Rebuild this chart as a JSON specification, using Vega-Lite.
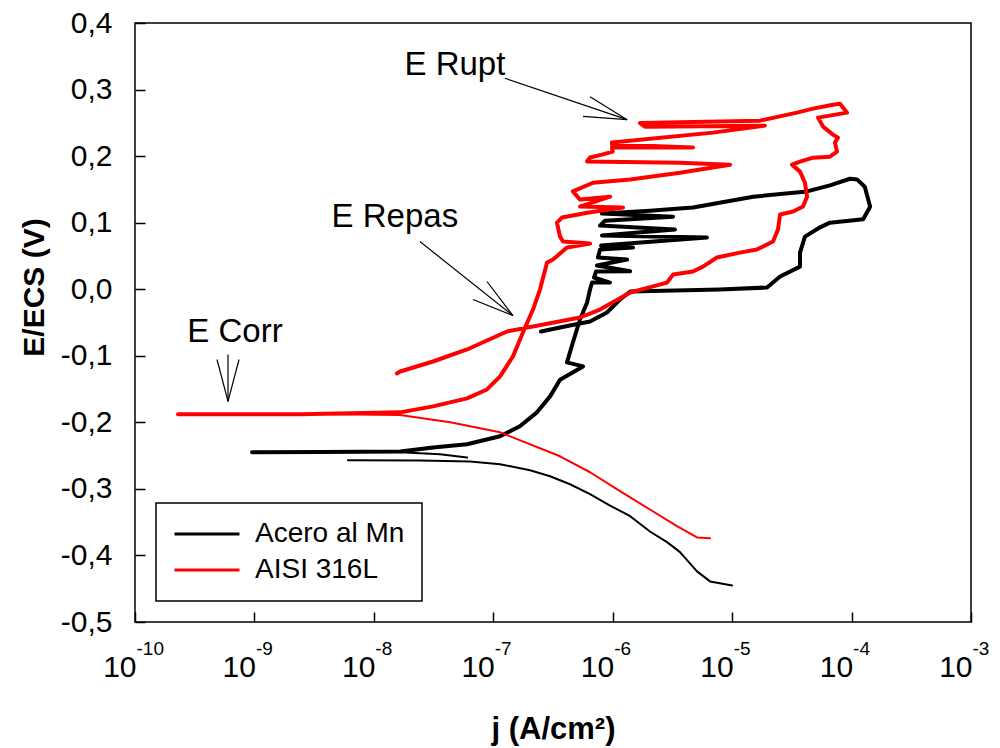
{
  "$schema": "https://vega.github.io/schema/vega-lite/v6.json",
  "width": 836,
  "height": 599,
  "autosize": {"type": "none"},
  "padding": {"left": 135, "top": 23, "right": 29, "bottom": 126},
  "background": "white",
  "view": {"stroke": "black", "strokeWidth": 1.5},
  "resolve": {"axis": {"x": "independent", "y": "independent"}},
  "layer": [
    {
      "data": {"values": [
        {"serie":"Acero al Mn","tramo":"Mn-a","barrido":"anódico","orden":1,"j":9.55e-10,"E":-0.245},
        {"serie":"Acero al Mn","tramo":"Mn-a","barrido":"anódico","orden":2,"j":3.54e-9,"E":-0.2445},
        {"serie":"Acero al Mn","tramo":"Mn-a","barrido":"anódico","orden":3,"j":1.66e-8,"E":-0.2437},
        {"serie":"Acero al Mn","tramo":"Mn-a","barrido":"anódico","orden":4,"j":3.13e-8,"E":-0.2377},
        {"serie":"Acero al Mn","tramo":"Mn-a","barrido":"anódico","orden":5,"j":6.03e-8,"E":-0.233},
        {"serie":"Acero al Mn","tramo":"Mn-a","barrido":"anódico","orden":6,"j":1.14e-7,"E":-0.221},
        {"serie":"Acero al Mn","tramo":"Mn-a","barrido":"anódico","orden":7,"j":1.67e-7,"E":-0.206},
        {"serie":"Acero al Mn","tramo":"Mn-a","barrido":"anódico","orden":8,"j":2.32e-7,"E":-0.185},
        {"serie":"Acero al Mn","tramo":"Mn-a","barrido":"anódico","orden":9,"j":2.99e-7,"E":-0.161},
        {"serie":"Acero al Mn","tramo":"Mn-a","barrido":"anódico","orden":10,"j":3.62e-7,"E":-0.136},
        {"serie":"Acero al Mn","tramo":"Mn-a","barrido":"anódico","orden":10.5,"j":5.64e-7,"E":-0.116},
        {"serie":"Acero al Mn","tramo":"Mn-a","barrido":"anódico","orden":11,"j":4.14e-7,"E":-0.110},
        {"serie":"Acero al Mn","tramo":"Mn-a","barrido":"anódico","orden":12,"j":4.64e-7,"E":-0.080},
        {"serie":"Acero al Mn","tramo":"Mn-a","barrido":"anódico","orden":13,"j":5.32e-7,"E":-0.0455},
        {"serie":"Acero al Mn","tramo":"Mn-a","barrido":"anódico","orden":14,"j":6.1e-7,"E":-0.020},
        {"serie":"Acero al Mn","tramo":"Mn-a","barrido":"anódico","orden":15,"j":6.46e-7,"E":0.000},
        {"serie":"Acero al Mn","tramo":"Mn-a","barrido":"anódico","orden":16,"j":6.71e-7,"E":0.010},
        {"serie":"Acero al Mn","tramo":"Mn-a","barrido":"anódico","orden":17,"j":9.5e-7,"E":0.010},
        {"serie":"Acero al Mn","tramo":"Mn-a","barrido":"anódico","orden":18,"j":6.97e-7,"E":0.0176},
        {"serie":"Acero al Mn","tramo":"Mn-a","barrido":"anódico","orden":19,"j":7.24e-7,"E":0.0266},
        {"serie":"Acero al Mn","tramo":"Mn-a","barrido":"anódico","orden":20,"j":1.40e-6,"E":0.027},
        {"serie":"Acero al Mn","tramo":"Mn-a","barrido":"anódico","orden":21,"j":7.38e-7,"E":0.0356},
        {"serie":"Acero al Mn","tramo":"Mn-a","barrido":"anódico","orden":22,"j":1.32e-6,"E":0.0446},
        {"serie":"Acero al Mn","tramo":"Mn-a","barrido":"anódico","orden":23,"j":7.53e-7,"E":0.0476},
        {"serie":"Acero al Mn","tramo":"Mn-a","barrido":"anódico","orden":24,"j":7.83e-7,"E":0.0596},
        {"serie":"Acero al Mn","tramo":"Mn-a","barrido":"anódico","orden":25,"j":1.48e-6,"E":0.0626},
        {"serie":"Acero al Mn","tramo":"Mn-a","barrido":"anódico","orden":26,"j":7.99e-7,"E":0.0656},
        {"serie":"Acero al Mn","tramo":"Mn-a","barrido":"anódico","orden":27,"j":6.15e-6,"E":0.0776},
        {"serie":"Acero al Mn","tramo":"Mn-a","barrido":"anódico","orden":28,"j":8.13e-7,"E":0.0806},
        {"serie":"Acero al Mn","tramo":"Mn-a","barrido":"anódico","orden":29,"j":3.32e-6,"E":0.0896},
        {"serie":"Acero al Mn","tramo":"Mn-a","barrido":"anódico","orden":30,"j":7.83e-7,"E":0.0956},
        {"serie":"Acero al Mn","tramo":"Mn-a","barrido":"anódico","orden":31,"j":8.61e-7,"E":0.103},
        {"serie":"Acero al Mn","tramo":"Mn-a","barrido":"anódico","orden":32,"j":3.2e-6,"E":0.109},
        {"serie":"Acero al Mn","tramo":"Mn-a","barrido":"anódico","orden":33,"j":8.13e-7,"E":0.1137},
        {"serie":"Acero al Mn","tramo":"Mn-a","barrido":"anódico","orden":34,"j":2.05e-6,"E":0.118},
        {"serie":"Acero al Mn","tramo":"Mn-a","barrido":"anódico","orden":35,"j":4.7e-6,"E":0.1227},
        {"serie":"Acero al Mn","tramo":"Mn-a","barrido":"anódico","orden":36,"j":1.5e-5,"E":0.139},
        {"serie":"Acero al Mn","tramo":"Mn-a","barrido":"anódico","orden":37,"j":4.24e-5,"E":0.147},
        {"serie":"Acero al Mn","tramo":"Mn-a","barrido":"anódico","orden":38,"j":6.59e-5,"E":0.156},
        {"serie":"Acero al Mn","tramo":"Mn-a","barrido":"anódico","orden":39,"j":9.7e-5,"E":0.166},
        {"serie":"Acero al Mn","tramo":"Mn-a","barrido":"anódico","orden":40,"j":1.11e-4,"E":0.165},
        {"serie":"Acero al Mn","tramo":"Mn-a","barrido":"anódico","orden":41,"j":1.29e-4,"E":0.154},
        {"serie":"Acero al Mn","tramo":"Mn-a","barrido":"anódico","orden":42,"j":1.43e-4,"E":0.124},
        {"serie":"Acero al Mn","tramo":"Mn-a","barrido":"anódico","orden":43,"j":1.25e-4,"E":0.105},
        {"serie":"Acero al Mn","tramo":"Mn-a","barrido":"anódico","orden":44,"j":6.59e-5,"E":0.100},
        {"serie":"Acero al Mn","tramo":"Mn-a","barrido":"anódico","orden":45,"j":5.45e-5,"E":0.093},
        {"serie":"Acero al Mn","tramo":"Mn-a","barrido":"anódico","orden":46,"j":4.07e-5,"E":0.079},
        {"serie":"Acero al Mn","tramo":"Mn-a","barrido":"anódico","orden":47,"j":3.7e-5,"E":0.055},
        {"serie":"Acero al Mn","tramo":"Mn-a","barrido":"anódico","orden":48,"j":3.7e-5,"E":0.034},
        {"serie":"Acero al Mn","tramo":"Mn-a","barrido":"anódico","orden":49,"j":2.52e-5,"E":0.019},
        {"serie":"Acero al Mn","tramo":"Mn-a","barrido":"anódico","orden":50,"j":1.96e-5,"E":0.0026},
        {"serie":"Acero al Mn","tramo":"Mn-a","barrido":"anódico","orden":51,"j":7.9e-6,"E":-0.0005},
        {"serie":"Acero al Mn","tramo":"Mn-a","barrido":"anódico","orden":52,"j":1.4e-6,"E":-0.0035},
        {"serie":"Acero al Mn","tramo":"Mn-a","barrido":"anódico","orden":53,"j":1.15e-6,"E":-0.0155},
        {"serie":"Acero al Mn","tramo":"Mn-a","barrido":"anódico","orden":54,"j":8.95e-7,"E":-0.035},
        {"serie":"Acero al Mn","tramo":"Mn-a","barrido":"anódico","orden":55,"j":6.46e-7,"E":-0.0485},
        {"serie":"Acero al Mn","tramo":"Mn-a","barrido":"anódico","orden":56,"j":3.98e-7,"E":-0.056},
        {"serie":"Acero al Mn","tramo":"Mn-a","barrido":"anódico","orden":57,"j":2.51e-7,"E":-0.0635},
        {"serie":"Acero al Mn","tramo":"Mn-c","barrido":"catódico","orden":1,"j":6.07e-9,"E":-0.257},
        {"serie":"Acero al Mn","tramo":"Mn-c","barrido":"catódico","orden":2,"j":2.43e-8,"E":-0.2575},
        {"serie":"Acero al Mn","tramo":"Mn-c","barrido":"catódico","orden":3,"j":6.38e-8,"E":-0.259},
        {"serie":"Acero al Mn","tramo":"Mn-c","barrido":"catódico","orden":4,"j":1.14e-7,"E":-0.263},
        {"serie":"Acero al Mn","tramo":"Mn-c","barrido":"catódico","orden":5,"j":2.03e-7,"E":-0.272},
        {"serie":"Acero al Mn","tramo":"Mn-c","barrido":"catódico","orden":6,"j":2.99e-7,"E":-0.281},
        {"serie":"Acero al Mn","tramo":"Mn-c","barrido":"catódico","orden":7,"j":4.39e-7,"E":-0.293},
        {"serie":"Acero al Mn","tramo":"Mn-c","barrido":"catódico","orden":8,"j":6.46e-7,"E":-0.308},
        {"serie":"Acero al Mn","tramo":"Mn-c","barrido":"catódico","orden":9,"j":9.5e-7,"E":-0.325},
        {"serie":"Acero al Mn","tramo":"Mn-c","barrido":"catódico","orden":10,"j":1.40e-6,"E":-0.341},
        {"serie":"Acero al Mn","tramo":"Mn-c","barrido":"catódico","orden":11,"j":2.05e-6,"E":-0.364},
        {"serie":"Acero al Mn","tramo":"Mn-c","barrido":"catódico","orden":12,"j":2.85e-6,"E":-0.380},
        {"serie":"Acero al Mn","tramo":"Mn-c","barrido":"catódico","orden":13,"j":3.66e-6,"E":-0.395},
        {"serie":"Acero al Mn","tramo":"Mn-c","barrido":"catódico","orden":14,"j":5.08e-6,"E":-0.424},
        {"serie":"Acero al Mn","tramo":"Mn-c","barrido":"catódico","orden":15,"j":6.53e-6,"E":-0.439},
        {"serie":"Acero al Mn","tramo":"Mn-c","barrido":"catódico","orden":16,"j":1.0e-5,"E":-0.445},
        {"serie":"Acero al Mn","tramo":"Mn-c2","barrido":"catódico","orden":1,"j":1.66e-8,"E":-0.245},
        {"serie":"Acero al Mn","tramo":"Mn-c2","barrido":"catódico","orden":2,"j":3.58e-8,"E":-0.248},
        {"serie":"Acero al Mn","tramo":"Mn-c2","barrido":"catódico","orden":3,"j":6.03e-8,"E":-0.253},
        {"serie":"AISI 316L","tramo":"316-c","barrido":"catódico","orden":1,"j":4.3e-9,"E":-0.188},
        {"serie":"AISI 316L","tramo":"316-c","barrido":"catódico","orden":2,"j":1.66e-8,"E":-0.189},
        {"serie":"AISI 316L","tramo":"316-c","barrido":"catódico","orden":3,"j":4.35e-8,"E":-0.200},
        {"serie":"AISI 316L","tramo":"316-c","barrido":"catódico","orden":4,"j":1.14e-7,"E":-0.215},
        {"serie":"AISI 316L","tramo":"316-c","barrido":"catódico","orden":5,"j":3.62e-7,"E":-0.251},
        {"serie":"AISI 316L","tramo":"316-c","barrido":"catódico","orden":6,"j":6.46e-7,"E":-0.275},
        {"serie":"AISI 316L","tramo":"316-c","barrido":"catódico","orden":7,"j":1.09e-6,"E":-0.3007},
        {"serie":"AISI 316L","tramo":"316-c","barrido":"catódico","orden":8,"j":2.05e-6,"E":-0.331},
        {"serie":"AISI 316L","tramo":"316-c","barrido":"catódico","orden":9,"j":3.45e-6,"E":-0.356},
        {"serie":"AISI 316L","tramo":"316-c","barrido":"catódico","orden":10,"j":5.08e-6,"E":-0.373},
        {"serie":"AISI 316L","tramo":"316-c","barrido":"catódico","orden":11,"j":6.53e-6,"E":-0.3743},
        {"serie":"AISI 316L","tramo":"316-a","barrido":"anódico","orden":1,"j":2.29e-10,"E":-0.188},
        {"serie":"AISI 316L","tramo":"316-a","barrido":"anódico","orden":2,"j":2.41e-9,"E":-0.188},
        {"serie":"AISI 316L","tramo":"316-a","barrido":"anódico","orden":3,"j":1.66e-8,"E":-0.185},
        {"serie":"AISI 316L","tramo":"316-a","barrido":"anódico","orden":4,"j":3.13e-8,"E":-0.176},
        {"serie":"AISI 316L","tramo":"316-a","barrido":"anódico","orden":5,"j":6.03e-8,"E":-0.164},
        {"serie":"AISI 316L","tramo":"316-a","barrido":"anódico","orden":6,"j":8.85e-8,"E":-0.1506},
        {"serie":"AISI 316L","tramo":"316-a","barrido":"anódico","orden":7,"j":1.14e-7,"E":-0.131},
        {"serie":"AISI 316L","tramo":"316-a","barrido":"anódico","orden":8,"j":1.46e-7,"E":-0.101},
        {"serie":"AISI 316L","tramo":"316-a","barrido":"anódico","orden":9,"j":1.77e-7,"E":-0.065},
        {"serie":"AISI 316L","tramo":"316-a","barrido":"anódico","orden":10,"j":2.15e-7,"E":-0.0305},
        {"serie":"AISI 316L","tramo":"316-a","barrido":"anódico","orden":11,"j":2.46e-7,"E":-0.0005},
        {"serie":"AISI 316L","tramo":"316-a","barrido":"anódico","orden":12,"j":2.82e-7,"E":0.040},
        {"serie":"AISI 316L","tramo":"316-a","barrido":"anódico","orden":13,"j":3.16e-7,"E":0.0446},
        {"serie":"AISI 316L","tramo":"316-a","barrido":"anódico","orden":14,"j":4.14e-7,"E":0.0626},
        {"serie":"AISI 316L","tramo":"316-a","barrido":"anódico","orden":15,"j":6.46e-7,"E":0.0686},
        {"serie":"AISI 316L","tramo":"316-a","barrido":"anódico","orden":16,"j":3.84e-7,"E":0.0716},
        {"serie":"AISI 316L","tramo":"316-a","barrido":"anódico","orden":17,"j":3.62e-7,"E":0.079},
        {"serie":"AISI 316L","tramo":"316-a","barrido":"anódico","orden":18,"j":3.41e-7,"E":0.100},
        {"serie":"AISI 316L","tramo":"316-a","barrido":"anódico","orden":19,"j":3.76e-7,"E":0.1077},
        {"serie":"AISI 316L","tramo":"316-a","barrido":"anódico","orden":20,"j":4.64e-7,"E":0.1107},
        {"serie":"AISI 316L","tramo":"316-a","barrido":"anódico","orden":21,"j":6.1e-7,"E":0.115},
        {"serie":"AISI 316L","tramo":"316-a","barrido":"anódico","orden":22,"j":1.22e-6,"E":0.1227},
        {"serie":"AISI 316L","tramo":"316-a","barrido":"anódico","orden":23,"j":5.32e-7,"E":0.1242},
        {"serie":"AISI 316L","tramo":"316-a","barrido":"anódico","orden":24,"j":9.5e-7,"E":0.139},
        {"serie":"AISI 316L","tramo":"316-a","barrido":"anódico","orden":25,"j":5.32e-7,"E":0.1347},
        {"serie":"AISI 316L","tramo":"316-a","barrido":"anódico","orden":26,"j":4.64e-7,"E":0.147},
        {"serie":"AISI 316L","tramo":"316-a","barrido":"anódico","orden":27,"j":6.84e-7,"E":0.160},
        {"serie":"AISI 316L","tramo":"316-a","barrido":"anódico","orden":28,"j":1.4e-6,"E":0.1647},
        {"serie":"AISI 316L","tramo":"316-a","barrido":"anódico","orden":29,"j":3.66e-6,"E":0.175},
        {"serie":"AISI 316L","tramo":"316-a","barrido":"anódico","orden":30,"j":9.6e-6,"E":0.187},
        {"serie":"AISI 316L","tramo":"316-a","barrido":"anódico","orden":31,"j":3.66e-6,"E":0.190},
        {"serie":"AISI 316L","tramo":"316-a","barrido":"anódico","orden":32,"j":6.1e-7,"E":0.192},
        {"serie":"AISI 316L","tramo":"316-a","barrido":"anódico","orden":33,"j":6.46e-7,"E":0.198},
        {"serie":"AISI 316L","tramo":"316-a","barrido":"anódico","orden":34,"j":8.13e-7,"E":0.2023},
        {"serie":"AISI 316L","tramo":"316-a","barrido":"anódico","orden":35,"j":1.0e-6,"E":0.2068},
        {"serie":"AISI 316L","tramo":"316-a","barrido":"anódico","orden":36,"j":9.86e-7,"E":0.2128},
        {"serie":"AISI 316L","tramo":"316-a","barrido":"anódico","orden":37,"j":4.7e-6,"E":0.2128},
        {"serie":"AISI 316L","tramo":"316-a","barrido":"anódico","orden":38,"j":9.86e-7,"E":0.2173},
        {"serie":"AISI 316L","tramo":"316-a","barrido":"anódico","orden":39,"j":9.86e-7,"E":0.2203},
        {"serie":"AISI 316L","tramo":"316-a","barrido":"anódico","orden":40,"j":6.92e-6,"E":0.2353},
        {"serie":"AISI 316L","tramo":"316-a","barrido":"anódico","orden":41,"j":1.88e-5,"E":0.2458},
        {"serie":"AISI 316L","tramo":"316-a","barrido":"anódico","orden":42,"j":1.86e-6,"E":0.2443},
        {"serie":"AISI 316L","tramo":"316-a","barrido":"anódico","orden":43,"j":1.69e-6,"E":0.2496},
        {"serie":"AISI 316L","tramo":"316-a","barrido":"anódico","orden":44,"j":1.71e-5,"E":0.2533},
        {"serie":"AISI 316L","tramo":"316-a","barrido":"anódico","orden":45,"j":3.49e-5,"E":0.2653},
        {"serie":"AISI 316L","tramo":"316-a","barrido":"anódico","orden":46,"j":4.75e-5,"E":0.2713},
        {"serie":"AISI 316L","tramo":"316-a","barrido":"anódico","orden":47,"j":6.98e-5,"E":0.2773},
        {"serie":"AISI 316L","tramo":"316-a","barrido":"anódico","orden":48,"j":8.0e-5,"E":0.2788},
        {"serie":"AISI 316L","tramo":"316-a","barrido":"anódico","orden":49,"j":9.16e-5,"E":0.2653},
        {"serie":"AISI 316L","tramo":"316-a","barrido":"anódico","orden":50,"j":5.24e-5,"E":0.2578},
        {"serie":"AISI 316L","tramo":"316-a","barrido":"anódico","orden":51,"j":5.77e-5,"E":0.2443},
        {"serie":"AISI 316L","tramo":"316-a","barrido":"anódico","orden":52,"j":6.98e-5,"E":0.2323},
        {"serie":"AISI 316L","tramo":"316-a","barrido":"anódico","orden":53,"j":7.69e-5,"E":0.2278},
        {"serie":"AISI 316L","tramo":"316-a","barrido":"anódico","orden":54,"j":7.26e-5,"E":0.2203},
        {"serie":"AISI 316L","tramo":"316-a","barrido":"anódico","orden":55,"j":7.55e-5,"E":0.2068},
        {"serie":"AISI 316L","tramo":"316-a","barrido":"anódico","orden":56,"j":6.59e-5,"E":0.1992},
        {"serie":"AISI 316L","tramo":"316-a","barrido":"anódico","orden":57,"j":4.75e-5,"E":0.1977},
        {"serie":"AISI 316L","tramo":"316-a","barrido":"anódico","orden":58,"j":3.7e-5,"E":0.1917},
        {"serie":"AISI 316L","tramo":"316-a","barrido":"anódico","orden":59,"j":3.17e-5,"E":0.1872},
        {"serie":"AISI 316L","tramo":"316-a","barrido":"anódico","orden":60,"j":3.7e-5,"E":0.1767},
        {"serie":"AISI 316L","tramo":"316-a","barrido":"anódico","orden":61,"j":4.07e-5,"E":0.160},
        {"serie":"AISI 316L","tramo":"316-a","barrido":"anódico","orden":62,"j":4.24e-5,"E":0.139},
        {"serie":"AISI 316L","tramo":"316-a","barrido":"anódico","orden":63,"j":3.92e-5,"E":0.1242},
        {"serie":"AISI 316L","tramo":"316-a","barrido":"anódico","orden":64,"j":3.24e-5,"E":0.1167},
        {"serie":"AISI 316L","tramo":"316-a","barrido":"anódico","orden":65,"j":2.52e-5,"E":0.1122},
        {"serie":"AISI 316L","tramo":"316-a","barrido":"anódico","orden":66,"j":2.42e-5,"E":0.0896},
        {"serie":"AISI 316L","tramo":"316-a","barrido":"anódico","orden":67,"j":2.2e-5,"E":0.0716},
        {"serie":"AISI 316L","tramo":"316-a","barrido":"anódico","orden":68,"j":1.61e-5,"E":0.0596},
        {"serie":"AISI 316L","tramo":"316-a","barrido":"anódico","orden":69,"j":1.16e-5,"E":0.055},
        {"serie":"AISI 316L","tramo":"316-a","barrido":"anódico","orden":70,"j":7.46e-6,"E":0.0476},
        {"serie":"AISI 316L","tramo":"316-a","barrido":"anódico","orden":71,"j":5.7e-6,"E":0.034},
        {"serie":"AISI 316L","tramo":"316-a","barrido":"anódico","orden":72,"j":4.7e-6,"E":0.0266},
        {"serie":"AISI 316L","tramo":"316-a","barrido":"anódico","orden":73,"j":3.2e-6,"E":0.022},
        {"serie":"AISI 316L","tramo":"316-a","barrido":"anódico","orden":74,"j":2.85e-6,"E":0.010},
        {"serie":"AISI 316L","tramo":"316-a","barrido":"anódico","orden":75,"j":1.4e-6,"E":-0.005},
        {"serie":"AISI 316L","tramo":"316-a","barrido":"anódico","orden":76,"j":7.82e-7,"E":-0.0305},
        {"serie":"AISI 316L","tramo":"316-a","barrido":"anódico","orden":77,"j":5.32e-7,"E":-0.0425},
        {"serie":"AISI 316L","tramo":"316-a","barrido":"anódico","orden":78,"j":1.3e-7,"E":-0.0635},
        {"serie":"AISI 316L","tramo":"316-a","barrido":"anódico","orden":79,"j":6.03e-8,"E":-0.0905},
        {"serie":"AISI 316L","tramo":"316-a","barrido":"anódico","orden":80,"j":3.13e-8,"E":-0.1086},
        {"serie":"AISI 316L","tramo":"316-a","barrido":"anódico","orden":81,"j":1.66e-8,"E":-0.1236},
        {"serie":"AISI 316L","tramo":"316-a","barrido":"anódico","orden":82,"j":1.56e-8,"E":-0.1266}
      ]},
      "mark": {"type": "line", "strokeJoin": "round", "strokeCap": "round", "clip": true},
      "encoding": {
        "x": {
          "field": "j", "type": "quantitative",
          "scale": {"type": "log", "domain": [1e-10, 1e-3], "nice": false},
          "axis": {
            "orient": "bottom",
            "values": [1e-10, 1e-9, 1e-8, 1e-7, 1e-6, 1e-5, 1e-4, 1e-3],
            "labelExpr": "'10'",
            "labelAlign": "right", "labelOffset": 1, "labelBaseline": "alphabetic",
            "labelFont": "Liberation Sans", "labelFontSize": 30, "labelColor": "black",
            "labelPadding": 64, "labelFlush": false, "labelOverlap": false,
            "tickSize": -10, "tickColor": "black", "tickWidth": 1.5,
            "domain": false, "grid": false,
            "title": "j (A/cm²)", "titleFont": "Liberation Sans", "titleFontSize": 31,
            "titleFontWeight": "bold", "titleColor": "black",
            "titleBaseline": "alphabetic", "titleY": 116
          }
        },
        "y": {
          "field": "E", "type": "quantitative",
          "scale": {"domain": [-0.5, 0.4], "nice": false, "zero": false},
          "axis": {
            "values": [-0.5, -0.4, -0.3, -0.2, -0.1, 0, 0.1, 0.2, 0.3, 0.4],
            "labelExpr": "replace(replace(format(datum.value, '.1f'), '.', ','), '−', '-')",
            "labelFont": "Liberation Sans", "labelFontSize": 30, "labelColor": "black",
            "labelPadding": 33, "labelFlush": false, "labelOverlap": false,
            "tickSize": -10, "tickColor": "black", "tickWidth": 1.5,
            "domain": false, "grid": false,
            "title": "E/ECS (V)", "titleFont": "Liberation Sans", "titleFontSize": 30,
            "titleFontWeight": "bold", "titleColor": "black",
            "titleAngle": 270, "titleAlign": "center", "titleBaseline": "alphabetic",
            "titleX": -92, "titleY": 264
          }
        },
        "color": {
          "field": "serie", "type": "nominal",
          "scale": {"domain": ["Acero al Mn", "AISI 316L"], "range": ["#000000", "#ff0000"]},
          "legend": {
            "orient": "none", "legendX": 21, "legendY": 480,
            "title": null, "direction": "vertical",
            "strokeColor": "black", "fillColor": "white",
            "padding": 17, "symbolType": "stroke", "symbolSize": 4225, "symbolStrokeWidth": 3,
            "clipHeight": 28,
            "labelFont": "Liberation Sans", "labelFontSize": 28, "labelColor": "black",
            "labelOffset": 14, "rowPadding": 8,
            "encode": {"legend": {"update": {"strokeWidth": {"value": 1.5}}}}
          }
        },
        "detail": {"field": "tramo", "type": "nominal"},
        "order": {"field": "orden", "type": "quantitative"},
        "strokeWidth": {
          "field": "barrido", "type": "nominal",
          "scale": {"domain": ["anódico", "catódico"], "range": [4, 2]},
          "legend": null
        }
      }
    },
    {
      "data": {"values": [
        {"nota": "E Rupt", "j": 1.25e-7, "E": 0.317, "j2": 1.32e-6, "E2": 0.2548},
        {"nota": "E Rupt", "j": 6.46e-7, "E": 0.2893, "j2": 1.32e-6, "E2": 0.2548},
        {"nota": "E Rupt", "j": 5.64e-7, "E": 0.2598, "j2": 1.32e-6, "E2": 0.2548},
        {"nota": "E Repas", "j": 2.43e-8, "E": 0.0716, "j2": 1.46e-7, "E2": -0.0395},
        {"nota": "E Repas", "j": 8.85e-8, "E": 0.0116, "j2": 1.46e-7, "E2": -0.0395},
        {"nota": "E Repas", "j": 6.76e-8, "E": -0.0155, "j2": 1.46e-7, "E2": -0.0395},
        {"nota": "E Corr", "j": 6.01e-10, "E": -0.098, "j2": 6.01e-10, "E2": -0.1686},
        {"nota": "E Corr", "j": 4.86e-10, "E": -0.1056, "j2": 6.01e-10, "E2": -0.1686},
        {"nota": "E Corr", "j": 7.43e-10, "E": -0.1056, "j2": 6.01e-10, "E2": -0.1686}
      ]},
      "mark": {"type": "rule", "color": "black", "strokeWidth": 1.2},
      "encoding": {
        "x": {
          "field": "j", "type": "quantitative",
          "axis": {
            "orient": "bottom",
            "values": [1e-10, 1e-9, 1e-8, 1e-7, 1e-6, 1e-5, 1e-4, 1e-3],
            "labelExpr": "'' + round(log(datum.value) / LN10)",
            "labelAlign": "left", "labelOffset": 1, "labelBaseline": "alphabetic",
            "labelFont": "Liberation Sans", "labelFontSize": 19, "labelColor": "black",
            "labelPadding": 32, "labelFlush": false, "labelOverlap": false,
            "ticks": false, "domain": false, "grid": false, "title": null
          }
        },
        "y": {"field": "E", "type": "quantitative", "axis": null},
        "x2": {"field": "j2"},
        "y2": {"field": "E2"}
      }
    },
    {
      "data": {"values": [
        {"nota": "E Rupt", "j": 4.77e-8, "E": 0.3374},
        {"nota": "E Repas", "j": 1.5e-8, "E": 0.109},
        {"nota": "E Corr", "j": 6.87e-10, "E": -0.065}
      ]},
      "mark": {"type": "text", "font": "Liberation Sans", "fontSize": 33, "color": "black", "align": "center", "baseline": "middle"},
      "encoding": {
        "x": {"field": "j", "type": "quantitative", "axis": null},
        "y": {"field": "E", "type": "quantitative", "axis": null},
        "text": {"field": "nota"}
      }
    }
  ]
}
